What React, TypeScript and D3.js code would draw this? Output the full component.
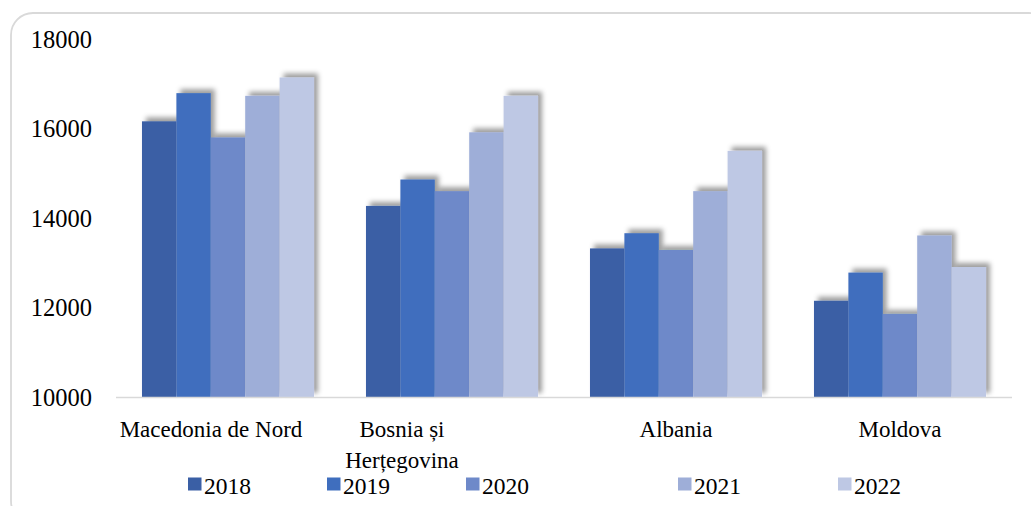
import React from "react";
import * as d3 from "d3";

const categories = ["Macedonia de Nord", "Bosnia și Herțegovina", "Albania", "Moldova"];
const categoryLines = [["Macedonia de Nord"], ["Bosnia și", "Herțegovina"], ["Albania"], ["Moldova"]];
const years = ["2018", "2019", "2020", "2021", "2022"];
const values2018 = [16160, 14270, 13320, 12150];
const values2019 = [16790, 14860, 13660, 12780];
const values2020 = [15800, 14600, 13285, 11855];
const values2021 = [16730, 15915, 14600, 13610];
const values2022 = [17140, 16730, 15500, 12905];
const series = [values2018, values2019, values2020, values2021, values2022];
const yTicks = [10000, 12000, 14000, 16000, 18000];
const colors = ["#3a5fa5", "#3f6ebe", "#6e89c9", "#9eaed8", "#bec8e4"];

const W = 1031;
const H = 506;
const FONT = "'Liberation Serif', 'Times New Roman', serif";

export default function App() {
  const x = d3.scaleBand<string>().domain(categories).range([116, 1012]).paddingInner(0.232).paddingOuter(0.116);
  const y = d3.scaleLinear().domain([10000, 18000]).range([397, 39]);
  const inner = d3.scaleBand<string>().domain(years).range([0, x.bandwidth()]);
  const labelShift = [-17, -50, 0, 0];
  const legendX = [188, 327, 466, 678, 838];
  const txt = { fontFamily: FONT, fill: "#000" } as React.CSSProperties;

  return (
    <svg width={W} height={H} style={{ position: "absolute", left: 0, top: 0, fontFamily: FONT }}>
      <defs>
        <filter id="sh" x="-30%" y="-30%" width="160%" height="160%">
          <feDropShadow dx="4" dy="-4" stdDeviation="2.8" floodColor="#000" floodOpacity="0.38" />
        </filter>
      </defs>
      <rect x={0} y={0} width={W} height={H} fill="#fff" />
      <rect x={11} y={13} width={1040} height={510} rx={22} ry={22} fill="#fff" stroke="#d9d9d9" strokeWidth={1.8} />
      {yTicks.map((t) => (
        <text key={t} x={92} y={y(t)} dy="0.35em" textAnchor="end" style={{ ...txt, fontSize: 24.5 }}>
          {t}
        </text>
      ))}
      {categories.map((c, ci) => (
        <g key={c}>
          {series.map((vals, si) => (
            <rect
              key={si}
              x={(x(c) as number) + (inner(years[si]) as number)}
              y={y(vals[ci])}
              width={inner.bandwidth()}
              height={y(10000) - y(vals[ci])}
              fill={colors[si]}
              filter="url(#sh)"
            />
          ))}
        </g>
      ))}
      <line x1={116} x2={1012} y1={397.5} y2={397.5} stroke="#d9d9d9" strokeWidth={1.5} />
      {categories.map((c, ci) => (
        <text key={c} textAnchor="middle" style={{ ...txt, fontSize: 23 }}>
          {categoryLines[ci].map((line, li) => (
            <tspan key={li} x={(x(c) as number) + x.bandwidth() / 2 + labelShift[ci]} y={437 + li * 31}>
              {line}
            </tspan>
          ))}
        </text>
      ))}
      {years.map((yr, i) => (
        <g key={yr}>
          <rect x={legendX[i]} y={477.5} width={13.5} height={13} fill={colors[i]} />
          <text x={legendX[i] + 16} y={494} style={{ ...txt, fontSize: 23.5 }}>
            {yr}
          </text>
        </g>
      ))}
    </svg>
  );
}
